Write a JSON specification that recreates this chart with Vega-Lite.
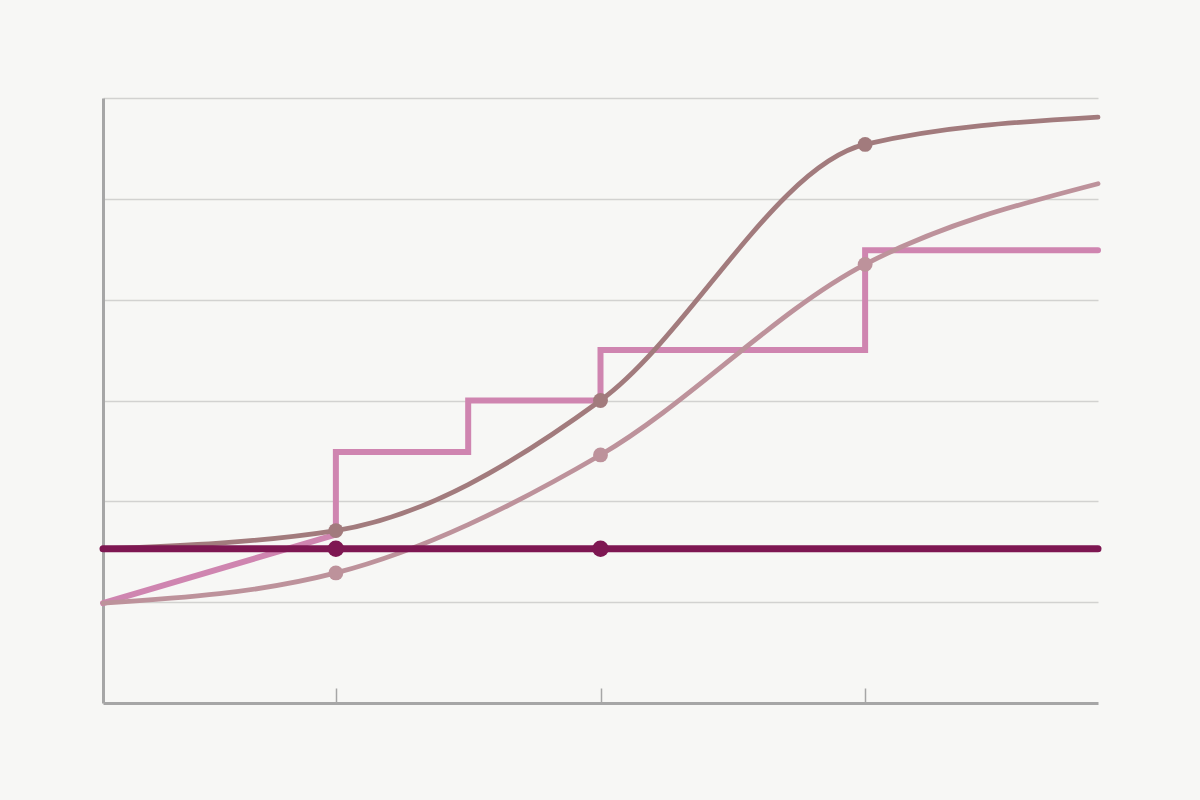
{
  "$schema": "https://vega.github.io/schema/vega-lite/v6.json",
  "autosize": "none",
  "width": 995,
  "height": 605,
  "padding": {"left": 103, "top": 98, "right": 102, "bottom": 97},
  "background": "#f7f7f5",
  "config": {
    "view": {"stroke": null},
    "axis": {"labels": false, "title": null}
  },
  "datasets": {
    "curves": [
      {"series": "brown", "x": 0.12, "y": 1.53, "o": 0, "dot": false},
      {"series": "brown", "x": 1, "y": 1.71, "o": 1, "dot": true},
      {"series": "brown", "x": 2, "y": 3.0, "o": 2, "dot": true},
      {"series": "brown", "x": 3, "y": 5.54, "o": 3, "dot": true},
      {"series": "brown", "x": 3.88, "y": 5.81, "o": 4, "dot": false},
      {"series": "mauve", "x": 0.12, "y": 0.99, "o": 0, "dot": false},
      {"series": "mauve", "x": 1, "y": 1.29, "o": 1, "dot": true},
      {"series": "mauve", "x": 2, "y": 2.46, "o": 2, "dot": true},
      {"series": "mauve", "x": 3, "y": 4.35, "o": 3, "dot": true},
      {"series": "mauve", "x": 3.88, "y": 5.15, "o": 4, "dot": false}
    ],
    "flat": [
      {"series": "dark", "x": 0.12, "y": 1.53, "o": 0, "dot": false},
      {"series": "dark", "x": 1, "y": 1.53, "o": 1, "dot": true},
      {"series": "dark", "x": 2, "y": 1.53, "o": 2, "dot": true},
      {"series": "dark", "x": 3.88, "y": 1.53, "o": 3, "dot": false}
    ],
    "steps": [
      {"series": "pink", "x": 0.12, "y": 0.99, "o": 0},
      {"series": "pink", "x": 1, "y": 1.67, "o": 1},
      {"series": "pink", "x": 1, "y": 2.49, "o": 2},
      {"series": "pink", "x": 1.5, "y": 2.49, "o": 3},
      {"series": "pink", "x": 1.5, "y": 3.0, "o": 4},
      {"series": "pink", "x": 2, "y": 3.0, "o": 5},
      {"series": "pink", "x": 2, "y": 3.5, "o": 6},
      {"series": "pink", "x": 3, "y": 3.5, "o": 7},
      {"series": "pink", "x": 3, "y": 4.49, "o": 8},
      {"series": "pink", "x": 3.88, "y": 4.49, "o": 9}
    ]
  },
  "encoding": {
    "x": {
      "field": "x",
      "type": "quantitative",
      "scale": {"domain": [0.12, 3.88], "nice": false, "zero": false},
      "axis": {
        "values": [1, 2, 3],
        "grid": false,
        "domainColor": "#a6a6a6",
        "domainWidth": 3,
        "tickColor": "#a6a6a6",
        "tickWidth": 1.5,
        "tickSize": -15
      }
    },
    "y": {
      "field": "y",
      "type": "quantitative",
      "scale": {"domain": [0, 6], "nice": false},
      "axis": {
        "values": [1, 2, 3, 4, 5, 6],
        "grid": true,
        "gridColor": "#d2d2d0",
        "gridWidth": 1.5,
        "ticks": false,
        "domainColor": "#a6a6a6",
        "domainWidth": 3
      }
    },
    "color": {
      "field": "series",
      "type": "nominal",
      "scale": {
        "domain": ["dark", "brown", "mauve", "pink"],
        "range": ["#7e1752", "#a27b7d", "#bd929b", "#cf85b0"]
      },
      "legend": null
    },
    "order": {"field": "o", "type": "quantitative"}
  },
  "layer": [
    {
      "data": {"name": "steps"},
      "mark": {"type": "line", "strokeWidth": 6, "strokeCap": "round", "strokeJoin": "miter"}
    },
    {
      "data": {"name": "curves"},
      "mark": {"type": "line", "strokeWidth": 4.8, "strokeCap": "round", "interpolate": "monotone"},
      "encoding": {"detail": {"field": "series"}}
    },
    {
      "data": {"name": "curves"},
      "transform": [{"filter": "datum.dot"}],
      "mark": {"type": "circle", "size": 220, "opacity": 1}
    },
    {
      "data": {"name": "flat"},
      "mark": {"type": "line", "strokeWidth": 7, "strokeCap": "round"}
    },
    {
      "data": {"name": "flat"},
      "transform": [{"filter": "datum.dot"}],
      "mark": {"type": "circle", "size": 270, "opacity": 1}
    }
  ]
}
